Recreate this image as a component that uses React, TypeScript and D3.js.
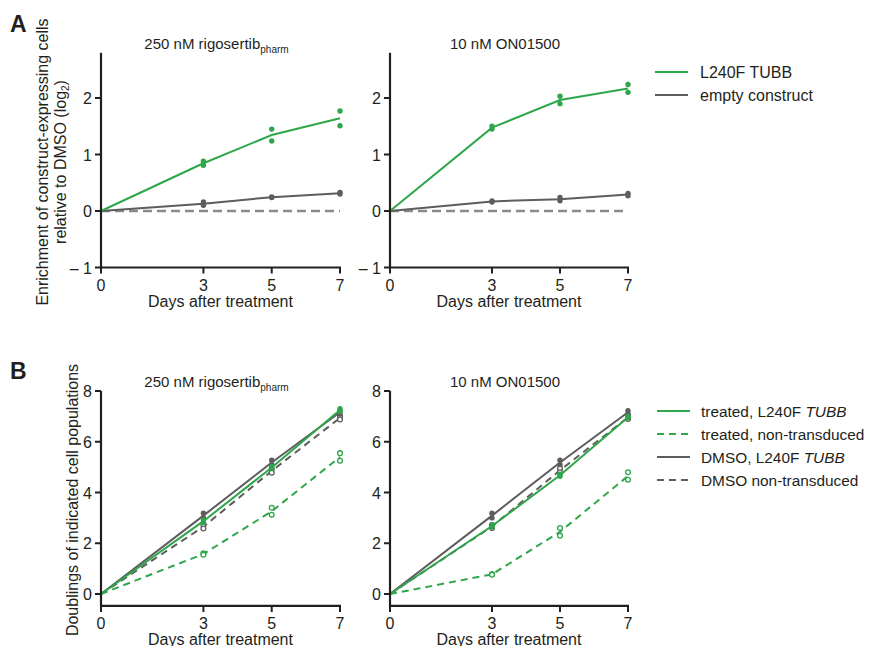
import React from "react";
import * as d3 from "d3";

const days = [0, 3, 5, 7];
const xTicks = [0, 3, 5, 7];
const yTicksA = [-1, 0, 1, 2];
const yTicksB = [0, 2, 4, 6, 8];

// Panel A replicates (day 0 = 0)
const aRigoMutRep1 = [0, 0.88, 1.45, 1.77];
const aRigoMutRep2 = [0, 0.81, 1.24, 1.51];
const aRigoEmptyRep1 = [0, 0.16, 0.25, 0.33];
const aRigoEmptyRep2 = [0, 0.1, 0.24, 0.3];
const aOnMutRep1 = [0, 1.5, 2.03, 2.24];
const aOnMutRep2 = [0, 1.45, 1.9, 2.1];
const aOnEmptyRep1 = [0, 0.18, 0.24, 0.31];
const aOnEmptyRep2 = [0, 0.16, 0.18, 0.27];

// Panel B replicates
const bRigoTreatMut1 = [0, 2.92, 5.02, 7.3];
const bRigoTreatMut2 = [0, 2.82, 4.95, 7.2];
const bRigoTreatNon1 = [0, 1.6, 3.4, 5.55];
const bRigoTreatNon2 = [0, 1.55, 3.12, 5.25];
const bRigoDmsoMut1 = [0, 3.18, 5.27, 7.22];
const bRigoDmsoMut2 = [0, 3.0, 5.1, 7.1];
const bRigoDmsoNon1 = [0, 2.72, 4.92, 7.0];
const bRigoDmsoNon2 = [0, 2.58, 4.78, 6.88];

const bOnTreatMut1 = [0, 2.72, 4.72, 7.0];
const bOnTreatMut2 = [0, 2.64, 4.64, 6.94];
const bOnTreatNon1 = [0, 0.79, 2.6, 4.8];
const bOnTreatNon2 = [0, 0.76, 2.3, 4.5];
const bOnDmsoMut1 = [0, 3.18, 5.27, 7.22];
const bOnDmsoMut2 = [0, 3.0, 5.1, 7.1];
const bOnDmsoNon1 = [0, 2.72, 4.95, 7.02];
const bOnDmsoNon2 = [0, 2.6, 4.8, 6.9];

const GREEN = "#2ea64a";
const GREY = "#5d5d5f";
const AXIS = "#231f20";

const mean = (a: number[], b: number[]) => a.map((v, i) => (v + b[i]) / 2);

type Series = {
  r1: number[];
  r2: number[];
  color: string;
  dashed?: boolean;
  open?: boolean;
};

function Panel(props: {
  left: number;
  right: number;
  top: number;
  bottom: number;
  yDomain: [number, number];
  yTicks: number[];
  axisTop: number;
  xAxisVal: number;
  title: React.ReactNode;
  series: Series[];
  zeroLine?: boolean;
}) {
  const { left, right, top, bottom, yDomain, yTicks, series } = props;
  const x = d3.scaleLinear().domain([0, 7]).range([left, right]);
  const y = d3.scaleLinear().domain(yDomain).range([bottom, top]);
  const line = d3
    .line<number>()
    .x((_, i) => x(days[i]))
    .y((d) => y(d));
  const xAxisY = y(props.xAxisVal);
  const axisTopY = y(props.axisTop);
  return (
    <g>
      <text x={(left + right) / 2 - 4} y={axisTopY - 4} textAnchor="middle" fontSize={15} fill={AXIS}>
        {props.title}
      </text>
      {props.zeroLine && (
        <line x1={x(0)} x2={x(7)} y1={y(0)} y2={y(0)} stroke="#8a8a8a" strokeWidth={2.4} strokeDasharray="9,5" />
      )}
      {series.map((s, k) => (
        <g key={k}>
          <path d={line(mean(s.r1, s.r2)) || ""} fill="none" stroke={s.color} strokeWidth={2} strokeDasharray={s.dashed ? "7,5" : undefined} />
          {[s.r1, s.r2].map((r, j) =>
            r.slice(1).map((v, i) => (
              <circle
                key={`${j}-${i}`}
                cx={x(days[i + 1])}
                cy={y(v)}
                r={s.open ? 2.4 : 2.7}
                fill={s.open ? "white" : s.color}
                stroke={s.color}
                strokeWidth={s.open ? 1.3 : 0}
              />
            ))
          )}
        </g>
      ))}
      {/* y axis */}
      <line x1={left} x2={left} y1={axisTopY} y2={xAxisY + 1} stroke={AXIS} strokeWidth={2.2} />
      {yTicks.map((t) => (
        <g key={t}>
          <line x1={left - 6} x2={left} y1={y(t)} y2={y(t)} stroke={AXIS} strokeWidth={2} />
          <text x={left - 9} y={y(t) + 6} textAnchor="end" fontSize={16} fill={AXIS}>
            {t < 0 ? `\u2013 ${Math.abs(t)}` : t}
          </text>
        </g>
      ))}
      {/* x axis */}
      <line x1={left - 1} x2={right + 1} y1={xAxisY} y2={xAxisY} stroke={AXIS} strokeWidth={2.2} />
      {xTicks.map((t) => (
        <g key={t}>
          <line x1={x(t)} x2={x(t)} y1={xAxisY} y2={xAxisY + 6} stroke={AXIS} strokeWidth={2} />
          <text x={x(t)} y={xAxisY + 23} textAnchor="middle" fontSize={16} fill={AXIS}>
            {t}
          </text>
        </g>
      ))}
      <text x={(left + right) / 2} y={xAxisY + 39} textAnchor="middle" fontSize={16} fill={AXIS}>
        Days after treatment
      </text>
    </g>
  );
}

const rigoTitle = (
  <>
    250 nM rigosertib
    <tspan fontSize={10} dy={4}>pharm</tspan>
  </>
);

export default function App() {
  const aBottom = 211 + 56.5;
  const aTop = 211 - 2.5 * 56.5;
  return (
    <svg width={869} height={646} style={{ position: "absolute", left: 0, top: 0, fontFamily: "Liberation Sans, Arial, sans-serif" }}>
      <rect width={869} height={646} fill="white" />
      <text x={10} y={32} fontSize={23} fontWeight="bold" fill={AXIS}>A</text>
      <text x={10} y={379} fontSize={23} fontWeight="bold" fill={AXIS}>B</text>

      {/* Panel A */}
      <text transform="translate(48,162) rotate(-90)" textAnchor="middle" fontSize={16} fill={AXIS}>
        Enrichment of construct-expressing cells
      </text>
      <text transform="translate(66,162) rotate(-90)" textAnchor="middle" fontSize={16} fill={AXIS}>
        relative to DMSO (log<tspan fontSize={10} dy={3}>2</tspan><tspan dy={-3}>)</tspan>
      </text>
      <Panel
        left={101}
        right={340}
        top={aTop}
        bottom={aBottom}
        yDomain={[-1, 2.5]}
        yTicks={yTicksA}
        axisTop={2.8}
        xAxisVal={-1}
        title={rigoTitle}
        zeroLine
        series={[
          { r1: aRigoEmptyRep1, r2: aRigoEmptyRep2, color: GREY },
          { r1: aRigoMutRep1, r2: aRigoMutRep2, color: GREEN },
        ]}
      />
      <Panel
        left={390}
        right={628}
        top={aTop}
        bottom={aBottom}
        yDomain={[-1, 2.5]}
        yTicks={yTicksA}
        axisTop={2.8}
        xAxisVal={-1}
        title="10 nM ON01500"
        zeroLine
        series={[
          { r1: aOnEmptyRep1, r2: aOnEmptyRep2, color: GREY },
          { r1: aOnMutRep1, r2: aOnMutRep2, color: GREEN },
        ]}
      />
      <g fontSize={16} fill={AXIS}>
        <line x1={655} x2={688} y1={72} y2={72} stroke={GREEN} strokeWidth={2} />
        <text x={700} y={78}>L240F TUBB</text>
        <line x1={655} x2={688} y1={95} y2={95} stroke={GREY} strokeWidth={2} />
        <text x={700} y={101}>empty construct</text>
      </g>

      {/* Panel B */}
      <text transform="translate(78,500) rotate(-90)" textAnchor="middle" fontSize={16} fill={AXIS}>
        Doublings of indicated cell populations
      </text>
      <Panel
        left={101}
        right={340}
        top={391}
        bottom={594}
        yDomain={[0, 8]}
        yTicks={yTicksB}
        axisTop={8}
        xAxisVal={-0.47}
        title={rigoTitle}
        series={[
          { r1: bRigoDmsoNon1, r2: bRigoDmsoNon2, color: GREY, dashed: true, open: true },
          { r1: bRigoDmsoMut1, r2: bRigoDmsoMut2, color: GREY },
          { r1: bRigoTreatNon1, r2: bRigoTreatNon2, color: GREEN, dashed: true, open: true },
          { r1: bRigoTreatMut1, r2: bRigoTreatMut2, color: GREEN },
        ]}
      />
      <Panel
        left={390}
        right={628}
        top={391}
        bottom={594}
        yDomain={[0, 8]}
        yTicks={yTicksB}
        axisTop={8}
        xAxisVal={-0.47}
        title="10 nM ON01500"
        series={[
          { r1: bOnDmsoNon1, r2: bOnDmsoNon2, color: GREY, dashed: true, open: true },
          { r1: bOnDmsoMut1, r2: bOnDmsoMut2, color: GREY },
          { r1: bOnTreatNon1, r2: bOnTreatNon2, color: GREEN, dashed: true, open: true },
          { r1: bOnTreatMut1, r2: bOnTreatMut2, color: GREEN },
        ]}
      />
      <g fontSize={15.4} fill={AXIS}>
        <line x1={657} x2={690} y1={411} y2={411} stroke={GREEN} strokeWidth={2} />
        <text x={701} y={417}>treated, L240F <tspan fontStyle="italic">TUBB</tspan></text>
        <line x1={657} x2={690} y1={434} y2={434} stroke={GREEN} strokeWidth={2} strokeDasharray="7,5" />
        <text x={701} y={440}>treated, non-transduced</text>
        <line x1={657} x2={690} y1={457} y2={457} stroke={GREY} strokeWidth={2} />
        <text x={701} y={463}>DMSO, L240F <tspan fontStyle="italic">TUBB</tspan></text>
        <line x1={657} x2={690} y1={480} y2={480} stroke={GREY} strokeWidth={2} strokeDasharray="7,5" />
        <text x={701} y={486}>DMSO non-transduced</text>
      </g>
    </svg>
  );
}
